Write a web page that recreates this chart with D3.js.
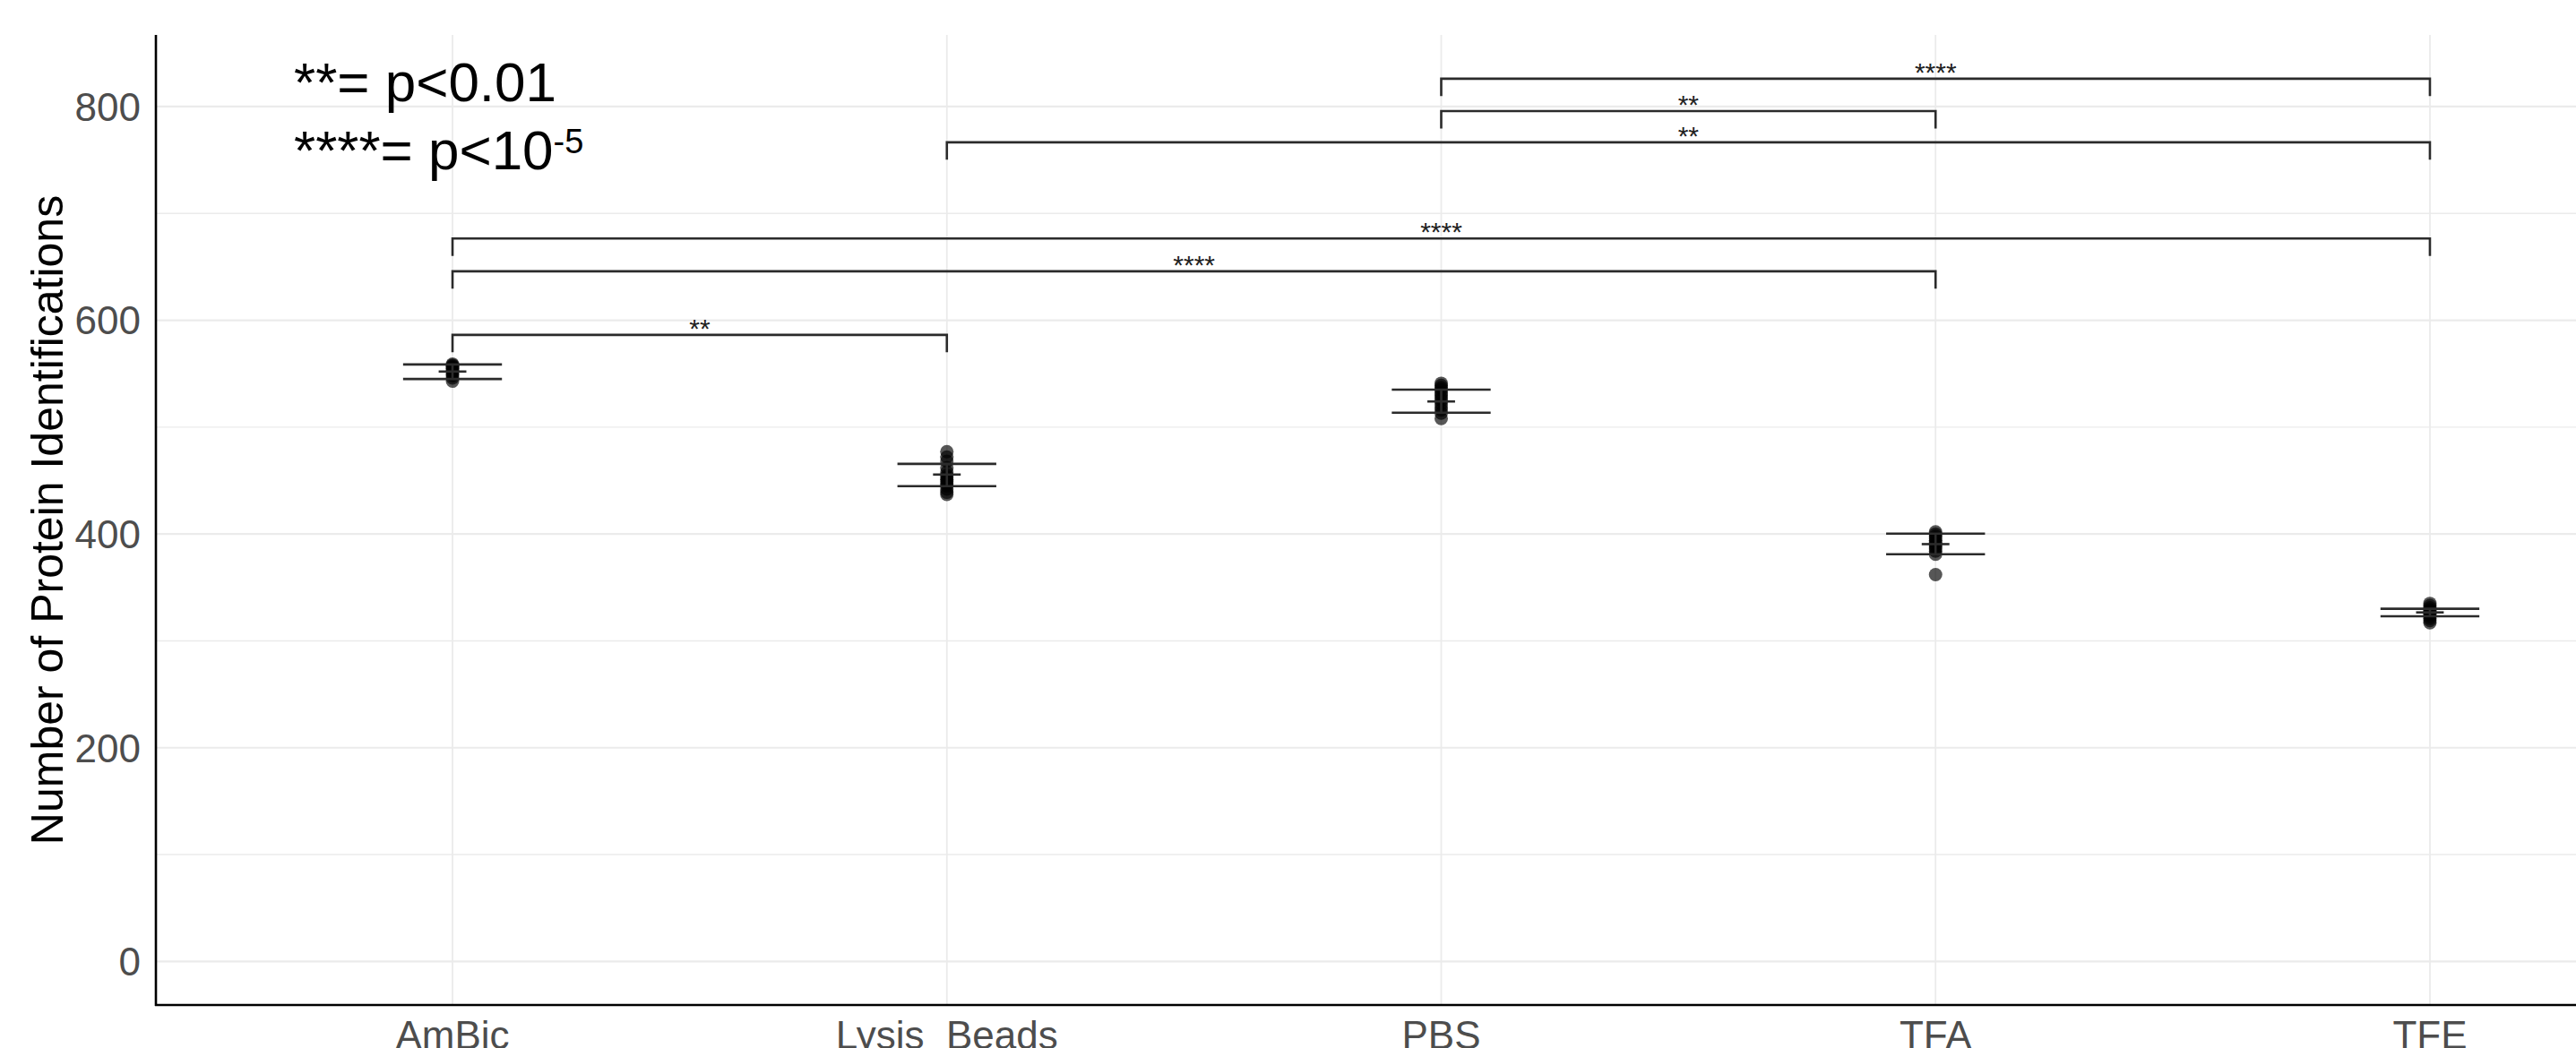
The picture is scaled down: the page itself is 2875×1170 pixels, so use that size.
<!DOCTYPE html>
<html>
<head>
<meta charset="utf-8">
<script src="https://cdnjs.cloudflare.com/ajax/libs/d3/7.8.5/d3.min.js"></script>
<style>
  html, body { margin: 0; padding: 0; background: #fff; }
  svg { display: block; font-family: "Liberation Sans", Arial, sans-serif; }
</style>
</head>
<body>
<svg width="2875" height="1170"></svg>
<script>
var categories = ["AmBic", "Lysis_Beads", "PBS", "TFA", "TFE"];

// protein identifications per replicate
var ambicCounts = [559, 558, 557, 556, 555, 553, 552, 550, 548, 546, 543];
var lysisCounts = [477, 472, 468, 462, 458, 455, 453, 451, 449, 447, 445, 442, 439, 437];
var pbsCounts = [541, 539, 537, 535, 532, 530, 527, 525, 522, 519, 516, 513, 508];
var tfaCounts = [402, 400, 398, 396, 394, 392, 390, 388, 386, 384, 381, 362];
var tfeCounts = [335, 333, 331, 329, 328, 327, 326, 325, 323, 321, 319, 317];

var groupMeans = [552, 455.6, 524, 390.5, 326.6];
var groupLower = [545, 444.7, 513.5, 381, 323];
var groupUpper = [558.6, 465.6, 535, 400.3, 330];

var yTicks = [0, 200, 400, 600, 800];
var yMinorTicks = [100, 300, 500, 700];

// significance brackets
var compStart = ["AmBic", "AmBic", "AmBic", "Lysis_Beads", "PBS", "PBS"];
var compEnd = ["Lysis_Beads", "TFA", "TFE", "TFE", "TFA", "TFE"];
var compY = [586.3, 645.8, 676.5, 766.5, 795.8, 826];
var compLabel = ["**", "****", "****", "**", "**", "****"];
var tipLength = 16.3;

var groupCounts = [ambicCounts, lysisCounts, pbsCounts, tfaCounts, tfeCounts];
var points = [];
groupCounts.forEach(function (arr, i) {
  arr.forEach(function (v) {
    points.push({ cat: categories[i], value: v });
  });
});

var margin = { top: 39, left: 174, bottom: 1122 };

var svg = d3.select("svg");

var x = d3.scalePoint().domain(categories).range([margin.left, 3043]).padding(0.6);
var y = d3.scaleLinear().domain([-40.8, 867]).range([margin.bottom, margin.top]);

var grid = svg.append("g").attr("class", "grid");

grid
  .selectAll(".minor")
  .data(yMinorTicks)
  .enter()
  .append("line")
  .attr("x1", margin.left)
  .attr("x2", 2875)
  .attr("y1", function (d) { return y(d); })
  .attr("y2", function (d) { return y(d); })
  .attr("stroke", "#ebebeb")
  .attr("stroke-width", 1.4);

grid
  .selectAll(".major")
  .data(yTicks)
  .enter()
  .append("line")
  .attr("x1", margin.left)
  .attr("x2", 2875)
  .attr("y1", function (d) { return y(d); })
  .attr("y2", function (d) { return y(d); })
  .attr("stroke", "#ebebeb")
  .attr("stroke-width", 2.2);

grid
  .selectAll(".vert")
  .data(categories)
  .enter()
  .append("line")
  .attr("x1", function (d) { return x(d); })
  .attr("x2", function (d) { return x(d); })
  .attr("y1", margin.top)
  .attr("y2", margin.bottom)
  .attr("stroke", "#ebebeb")
  .attr("stroke-width", 1.8);

// points
svg
  .append("g")
  .selectAll("circle")
  .data(points)
  .enter()
  .append("circle")
  .attr("cx", function (d) { return x(d.cat); })
  .attr("cy", function (d) { return y(d.value); })
  .attr("r", 7.5)
  .attr("fill", "#000")
  .attr("fill-opacity", 0.66);

// error bars
var eb = svg
  .append("g")
  .selectAll("g")
  .data(categories)
  .enter()
  .append("g")
  .attr("stroke", "#2b2b2b")
  .attr("stroke-width", 2.6);

eb.append("line")
  .attr("x1", function (d) { return x(d); })
  .attr("x2", function (d) { return x(d); })
  .attr("y1", function (d, i) { return y(groupLower[i]); })
  .attr("y2", function (d, i) { return y(groupUpper[i]); });

eb.append("line")
  .attr("x1", function (d) { return x(d) - 0.1 * x.step(); })
  .attr("x2", function (d) { return x(d) + 0.1 * x.step(); })
  .attr("y1", function (d, i) { return y(groupUpper[i]); })
  .attr("y2", function (d, i) { return y(groupUpper[i]); });

eb.append("line")
  .attr("x1", function (d) { return x(d) - 0.1 * x.step(); })
  .attr("x2", function (d) { return x(d) + 0.1 * x.step(); })
  .attr("y1", function (d, i) { return y(groupLower[i]); })
  .attr("y2", function (d, i) { return y(groupLower[i]); });

eb.append("line")
  .attr("x1", function (d) { return x(d) - 0.028 * x.step(); })
  .attr("x2", function (d) { return x(d) + 0.028 * x.step(); })
  .attr("y1", function (d, i) { return y(groupMeans[i]); })
  .attr("y2", function (d, i) { return y(groupMeans[i]); });

// brackets
var br = svg
  .append("g")
  .selectAll("g")
  .data(compY)
  .enter()
  .append("g");

br.append("path")
  .attr("fill", "none")
  .attr("stroke", "#2b2b2b")
  .attr("stroke-width", 2.6)
  .attr("d", function (d, i) {
    var x1 = x(compStart[i]);
    var x2 = x(compEnd[i]);
    return (
      "M" + x1 + "," + y(d - tipLength) +
      "L" + x1 + "," + y(d) +
      "L" + x2 + "," + y(d) +
      "L" + x2 + "," + y(d - tipLength)
    );
  });

br.append("text")
  .attr("x", function (d, i) { return (x(compStart[i]) + x(compEnd[i])) / 2; })
  .attr("y", function (d) { return y(d) + 3; })
  .attr("text-anchor", "middle")
  .attr("fill", "#222")
  .style("font-size", "30px")
  .text(function (d, i) { return compLabel[i]; });

// axis lines
svg.append("line")
  .attr("x1", margin.left).attr("x2", margin.left)
  .attr("y1", margin.top).attr("y2", margin.bottom + 1)
  .attr("stroke", "#000").attr("stroke-width", 2.6);

svg.append("line")
  .attr("x1", margin.left - 1).attr("x2", 2875)
  .attr("y1", margin.bottom).attr("y2", margin.bottom)
  .attr("stroke", "#000").attr("stroke-width", 2.6);

// tick labels
svg
  .append("g")
  .selectAll("text")
  .data(yTicks)
  .enter()
  .append("text")
  .attr("x", 157)
  .attr("y", function (d) { return y(d); })
  .attr("dy", "0.36em")
  .attr("text-anchor", "end")
  .attr("fill", "#4d4d4d")
  .style("font-size", "44px")
  .text(function (d) { return d; });

svg
  .append("g")
  .selectAll("text")
  .data(categories)
  .enter()
  .append("text")
  .attr("x", function (d) { return x(d); })
  .attr("y", 1171)
  .attr("text-anchor", "middle")
  .attr("fill", "#4d4d4d")
  .style("font-size", "44px")
  .text(function (d) { return d; });

// y title
svg.append("text")
  .attr("transform", "translate(70," + (margin.top + margin.bottom) / 2 + ") rotate(-90)")
  .attr("text-anchor", "middle")
  .attr("fill", "#000")
  .style("font-size", "50px")
  .text("Number of Protein Identifications");

// significance key
var key = svg.append("g").attr("fill", "#000").style("font-size", "62px");

key.append("text")
  .attr("x", 328)
  .attr("y", 113)
  .text("**= p<0.01");

var key2 = key.append("text")
  .attr("x", 328)
  .attr("y", 189);
key2.append("tspan").text("****= p<10");
key2.append("tspan")
  .attr("dy", -18)
  .style("font-size", "38px")
  .text("-5");
</script>
</body>
</html>
